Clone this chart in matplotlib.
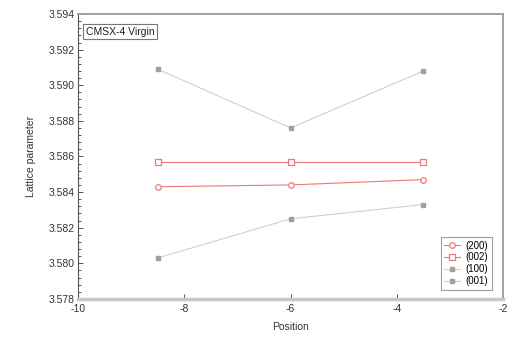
import matplotlib
matplotlib.use("Agg")
import matplotlib.pyplot as plt
from matplotlib.ticker import AutoMinorLocator, MultipleLocator

positions = [-8.5, -6.0, -3.5]
lattice_200 = [3.5843, 3.5844, 3.5847]
lattice_002 = [3.5857, 3.5857, 3.5857]
lattice_100 = [3.5909, 3.5876, 3.5908]
lattice_001 = [3.5803, 3.5825, 3.5833]

plt.rcParams["font.family"] = ["Liberation Sans", "DejaVu Sans"]
plt.rcParams["axes.unicode_minus"] = False

fig = plt.figure(figsize=(5.08, 3.42), dpi=100)
ax = fig.add_axes([0.154, 0.126, 0.836, 0.833])

red = "#f07878"
grey_line = "#d0d0d0"
grey_mark = "#a0a0a0"
fs = 7.5

ax.plot(positions, lattice_200, color=red, lw=0.8, marker="o", ms=4,
        mfc="white", mec=red, mew=0.9, label="(200)")
ax.plot(positions, lattice_002, color=red, lw=0.8, marker="s", ms=4,
        mfc="white", mec=red, mew=0.9, label="(002)")
ax.plot(positions, lattice_100, color=grey_line, lw=0.8, marker="s", ms=3.5,
        mfc=grey_mark, mec=grey_mark, label="(100)")
ax.plot(positions, lattice_001, color=grey_line, lw=0.8, marker="s", ms=3.5,
        mfc=grey_mark, mec=grey_mark, label="(001)")

ax.set_xlim(-10, -2)
ax.set_ylim(3.578, 3.594)
ax.xaxis.set_major_locator(MultipleLocator(2))
ax.yaxis.set_major_locator(MultipleLocator(0.002))
ax.yaxis.set_minor_locator(AutoMinorLocator(5))
ax.yaxis.set_major_formatter(plt.FormatStrFormatter("%.3f"))

ax.tick_params(which="both", direction="in", labelsize=fs, colors="#555555",
               labelcolor="#333333", width=0.7)
ax.tick_params(which="major", length=3.5)
ax.tick_params(which="minor", length=2)
ax.tick_params(axis="x", pad=3.5)
ax.tick_params(axis="y", pad=2.5)

for side in ["top", "right"]:
    ax.spines[side].set_color("#a0a0a0")
    ax.spines[side].set_linewidth(1.4)
ax.spines["left"].set_color("#555555")
ax.spines["left"].set_linewidth(0.8)
ax.spines["bottom"].set_color("#c8c8c8")
ax.spines["bottom"].set_linewidth(2.5)

ax.set_xlabel("Position", fontsize=fs, color="#333333", labelpad=6)
ax.set_ylabel("Lattice parameter", fontsize=fs, color="#333333", labelpad=9)

ax.text(0.018, 0.955, "CMSX-4 Virgin", transform=ax.transAxes, fontsize=fs,
        va="top", ha="left", color="#222222",
        bbox=dict(boxstyle="square,pad=0.25", fc="white", ec="#777777", lw=0.8))

leg = ax.legend(loc="lower right", fontsize=fs - 0.5, frameon=True, fancybox=False,
                edgecolor="#888888", handlelength=1.6, borderpad=0.35,
                labelspacing=0.2, handletextpad=0.6, bbox_to_anchor=(0.985, 0.015))
leg.get_frame().set_linewidth(0.8)

fig.savefig("out.png", dpi=100)
